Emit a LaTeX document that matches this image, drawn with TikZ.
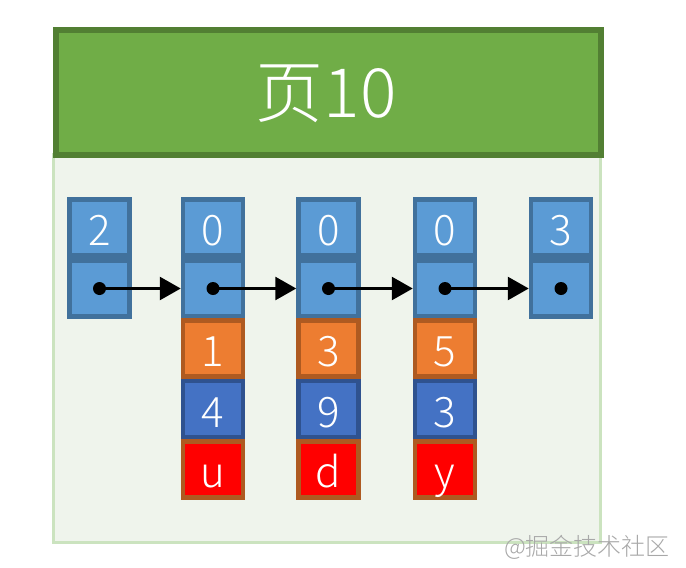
\documentclass[tikz,border=0pt]{standalone}
\usepackage{fontspec}
\setmainfont{Noto Sans CJK SC Light}
\usetikzlibrary{arrows.meta}
\definecolor{headfill}{HTML}{70AD47}
\definecolor{headdraw}{HTML}{527F33}
\definecolor{bodyfill}{HTML}{EFF4EC}
\definecolor{bodydraw}{HTML}{CBE3BF}
\definecolor{lbfill}{HTML}{5B9BD5}
\definecolor{lbdraw}{HTML}{41719C}
\definecolor{orfill}{HTML}{ED7D31}
\definecolor{ordraw}{HTML}{AE5A21}
\definecolor{dbfill}{HTML}{4472C4}
\definecolor{dbdraw}{HTML}{2F528F}
\definecolor{rdfill}{HTML}{FF0000}
\definecolor{rddraw}{HTML}{AE5A21}
\definecolor{wmark}{HTML}{A8A8A8}
\tikzset{
  cell/.style={rectangle, minimum width=60pt, minimum height=56pt, line width=4.5pt,
    text=white, font=\fontsize{42}{42}\selectfont, inner sep=0pt,
    text height=36.5pt, text depth=0pt},
  lbcell/.style={cell, fill=lbfill, draw=lbdraw},
  orcell/.style={cell, fill=orfill, draw=ordraw},
  dbcell/.style={cell, fill=dbfill, draw=dbdraw},
  rdcell/.style={cell, fill=rdfill, draw=rddraw},
  link/.style={line width=2.8pt, -{Triangle[length=21pt,width=23pt]}},
  dotmark/.style={fill=black}
}
\begin{document}
\begin{tikzpicture}[x=1pt,y=-1pt]
\useasboundingbox (0,0) rectangle (686,568);
% body and header
\node[draw=bodydraw, fill=bodyfill, line width=3pt, minimum width=547pt, minimum height=388pt, inner sep=0pt, anchor=north west] (body) at (52,153) {};
\node[draw=headdraw, fill=headfill, line width=6pt, minimum width=545pt, minimum height=125pt, inner sep=0pt, anchor=north west] (head) at (53,27) {};
\node[text=white, font=\fontsize{68}{68}\selectfont, inner sep=0pt] (title) at (326,94) {页10};
% columns
\def\ra{227.3}\def\rb{288.5}\def\rc{348.5}\def\rd{409.1}\def\re{469.7}
\node[lbcell] (a1) at (99.5,\ra) {2};
\node[lbcell] (a2) at (99.5,\rb) {};
\node[lbcell] (b1) at (213,\ra) {0};
\node[lbcell] (b2) at (213,\rb) {};
\node[orcell] (b3) at (213,\rc) {1};
\node[dbcell] (b4) at (213,\rd) {4};
\node[rdcell] (b5) at (213,\re) {u};
\node[lbcell] (c1) at (328.5,\ra) {0};
\node[lbcell] (c2) at (328.5,\rb) {};
\node[orcell] (c3) at (328.5,\rc) {3};
\node[dbcell] (c4) at (328.5,\rd) {9};
\node[rdcell] (c5) at (328.5,\re) {d};
\node[lbcell] (d1) at (445,\ra) {0};
\node[lbcell] (d2) at (445,\rb) {};
\node[orcell] (d3) at (445,\rc) {5};
\node[dbcell] (d4) at (445,\rd) {3};
\node[rdcell] (d5) at (445,\re) {y};
\node[lbcell] (e1) at (561,\ra) {3};
\node[lbcell] (e2) at (561,\rb) {};
% links
\draw[link] (a2.center) -- (b2.west);
\draw[link] (b2.center) -- (c2.west);
\draw[link] (c2.center) -- (d2.west);
\draw[link] (d2.center) -- (e2.west);
\foreach \n in {a2,b2,c2,d2,e2} \fill[dotmark] (\n.center) circle (6.5pt);
% watermark
\node[text=wmark, font=\fontsize{24}{24}\selectfont, inner sep=0pt] (wm) at (587,547) {@掘金技术社区};
\end{tikzpicture}
\end{document}
